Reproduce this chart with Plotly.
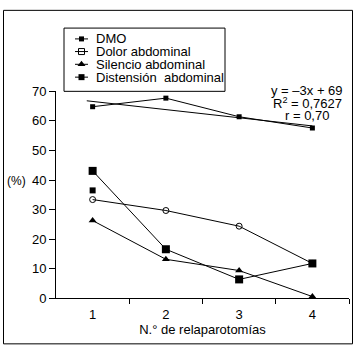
import plotly.graph_objects as go

W, H = 356, 360

# ---- data ----
relaparotomias = [1, 2, 3, 4]
x_tick_labels = ["1", "2", "3", "4"]
dmo = [64.8, 67.7, 61.4, 57.6]
dolor_abdominal = [33.4, 29.7, 24.4, 11.8]
silencio_abdominal = [26.3, 13.2, 9.4, 0.6]
distension_abdominal = [43.1, 16.6, 6.4, 11.8]
punto_aislado_x = [1]
punto_aislado_y = [36.5]
tendencia_x = [0.92, 4.0]
tendencia_y = [66.8, 58.3]
y_ticks = [0, 10, 20, 30, 40, 50, 60, 70]

series_names = ["DMO", "Dolor abdominal", "Silencio abdominal", "Distensión  abdominal"]

FONT = "Arial, Liberation Sans, sans-serif"
BLACK = "#000000"

def px(x):
    return x / W

def py(y):
    return 1 - y / H

fig = go.Figure()

# regression line
fig.add_trace(go.Scatter(x=tendencia_x, y=tendencia_y, mode="lines",
                         line=dict(color=BLACK, width=1), showlegend=False,
                         hoverinfo="skip", cliponaxis=False))

styles = [
    dict(symbol="square", size=5, color=BLACK, line=dict(color=BLACK, width=0)),
    dict(symbol="circle-open", size=6, color=BLACK, line=dict(color=BLACK, width=1)),
    dict(symbol="triangle-up", size=7, color=BLACK, line=dict(color=BLACK, width=0)),
    dict(symbol="square", size=8, color=BLACK, line=dict(color=BLACK, width=0)),
]
values = [dmo, dolor_abdominal, silencio_abdominal, distension_abdominal]

for name, vals, st in zip(series_names, values, styles):
    fig.add_trace(go.Scatter(x=relaparotomias, y=vals, mode="lines+markers", name=name,
                             line=dict(color=BLACK, width=1), marker=st,
                             showlegend=False, cliponaxis=False))

fig.add_trace(go.Scatter(x=punto_aislado_x, y=punto_aislado_y, mode="markers",
                         marker=dict(symbol="square", size=6, color=BLACK),
                         showlegend=False, cliponaxis=False))

# ---- legend drawn on a pixel-space overlay axis ----
leg_rows = [33.3, 46.5, 59.8, 73.2]
leg_line_x = [75, 88]
leg_mark_x = 81.5
leg_text_x = 94
for name, st, ry in zip(series_names, styles, leg_rows):
    fig.add_trace(go.Scatter(x=leg_line_x, y=[ry, ry], mode="lines", xaxis="x2", yaxis="y2",
                             line=dict(color=BLACK, width=1), showlegend=False, hoverinfo="skip"))
    mst = dict(st)
    if st["symbol"] == "circle-open":
        mst = dict(symbol="square-open", size=6, color=BLACK, line=dict(color=BLACK, width=1))
    if st["symbol"] == "square" and st["size"] == 8:
        mst = dict(symbol="square", size=6, color=BLACK)
    fig.add_trace(go.Scatter(x=[leg_mark_x], y=[ry], mode="markers", xaxis="x2", yaxis="y2",
                             marker=mst, showlegend=False, hoverinfo="skip"))

annotations = []
for name, ry in zip(series_names, leg_rows):
    annotations.append(dict(x=px(leg_text_x), y=py(ry), xref="paper", yref="paper", text=name,
                            showarrow=False, xanchor="left", yanchor="middle",
                            font=dict(size=13, color=BLACK, family=FONT)))

eq_lines = [("y = \u20133x + 69", 87.5), ("R<sup>2</sup> = 0,7627", 100), ("r = 0,70", 113)]
for t, yy in eq_lines:
    annotations.append(dict(x=px(307), y=py(yy), xref="paper", yref="paper", text=t,
                            showarrow=False, xanchor="center", yanchor="middle",
                            font=dict(size=13, color=BLACK, family=FONT)))

annotations.append(dict(x=px(16), y=py(182), xref="paper", yref="paper", text="(%)",
                        showarrow=False, xanchor="center", yanchor="middle",
                        font=dict(size=12, color=BLACK, family=FONT)))

shapes = [
    dict(type="rect", xref="paper", yref="paper", x0=px(64), x1=px(225), y0=py(88), y1=py(22),
         line=dict(color=BLACK, width=1)),
    dict(type="rect", xref="paper", yref="paper", x0=px(3.5), x1=px(352.5), y0=py(351.5), y1=py(3.5),
         line=dict(color=BLACK, width=1)),
]

fig.update_layout(
    width=W, height=H,
    margin=dict(l=0, r=0, t=0, b=0),
    paper_bgcolor="white", plot_bgcolor="rgba(0,0,0,0)",
    font=dict(family=FONT, size=13, color=BLACK),
    showlegend=False,
    xaxis=dict(domain=[56 / W, 349 / W], range=[0.5, 4.5], tickmode="array",
               tickvals=relaparotomias, ticktext=x_tick_labels,
               ticks="outside", ticklen=4, tickcolor="rgba(0,0,0,0)",
               minor=dict(tickmode="array", tickvals=[1.5, 2.5, 3.5, 4.5], ticks="outside",
                          ticklen=5, tickcolor=BLACK, tickwidth=1),
               showline=True, linecolor=BLACK, linewidth=1, showgrid=False, zeroline=False,
               tickfont=dict(size=13), anchor="y",
               title=dict(text="N.\u00b0 de relaparotomías", font=dict(size=13), standoff=2)),
    yaxis=dict(domain=[(H - 304) / H, (H - 88) / H], range=[0, 70], tickmode="array",
               tickvals=y_ticks, ticks="outside", ticklen=6, tickcolor=BLACK,
               showline=True, linecolor=BLACK, linewidth=1, showgrid=False, zeroline=False,
               tickfont=dict(size=13), anchor="x"),
    xaxis2=dict(domain=[0, 1], range=[0, W], visible=False, anchor="y2"),
    yaxis2=dict(domain=[0, 1], range=[H, 0], visible=False, anchor="x2"),
    annotations=annotations,
    shapes=shapes,
)

fig.write_html("out.html",
               config={"displayModeBar": False},
               post_script="document.body.style.margin='0px';document.body.style.overflow='hidden';")
